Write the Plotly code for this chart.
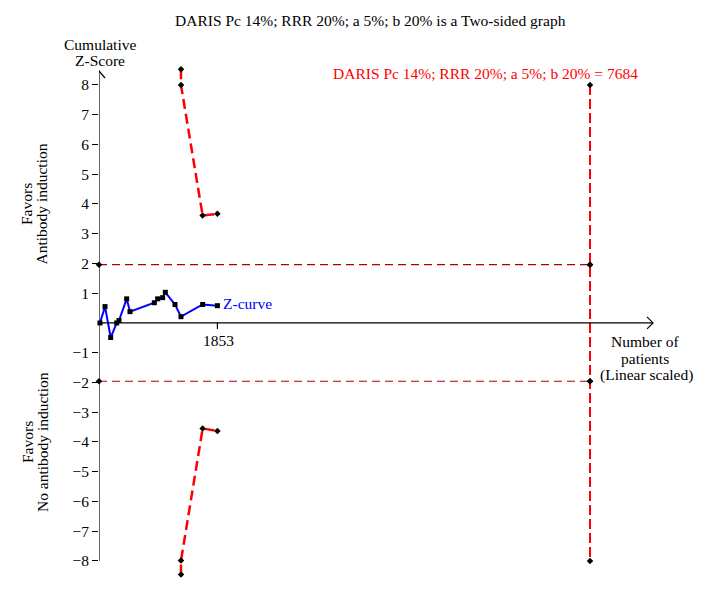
import plotly.graph_objects as go

# ---- data ----
z_patients = [15, 94, 183, 277, 313, 433, 485, 866, 918, 996, 1038, 1189, 1283, 1622, 1853]
z_values = [0.0, 0.55, -0.49, 0.0, 0.08, 0.81, 0.38, 0.68, 0.81, 0.85, 1.03, 0.62, 0.21, 0.62, 0.58]

bound_patients = [1283, 1283, 1622, 1853]
upper_bound = [8.53, 8.0, 3.61, 3.67]
lower_bound = [-8.46, -7.99, -3.55, -3.63]

ris = 7684
conv = 1.96
ris_marks = [8, 1.96, -1.96, -8]

ytick_vals = [8, 7, 6, 5, 4, 3, 2, 1, -1, -2, -3, -4, -5, -6, -7, -8]
ytick_text = ["8", "7", "6", "5", "4", "3", "2", "1", "\u22121", "\u22122", "\u22123", "\u22124",
              "\u22125", "\u22126", "\u22127", "\u22128"]
x_tick = 1853

FONT = "Liberation Serif"
FS = 15.5

# page body margin offset (browser default 8px)
OX, OY = 8, 8

# ---- geometry (reference pixels) ----
X_MAX = 8701
Y_MIN, Y_MAX = -8.81, 8.84
L, T, W, H = 99, 60, 556, 525
px_x = W / X_MAX
px_y = H / (Y_MAX - Y_MIN)

fig = go.Figure()

# conventional boundaries
for v in (conv, -conv):
    fig.add_trace(go.Scatter(x=[0, ris], y=[v, v], mode="lines+markers",
                             line=dict(color="#b00000", width=1.2, dash="8px,5px"),
                             marker=dict(symbol="diamond", size=5, color="black"),
                             cliponaxis=False, showlegend=False, hoverinfo="skip"))

# RIS vertical line
fig.add_trace(go.Scatter(x=[ris] * 2, y=[ris_marks[0], ris_marks[-1]], mode="lines",
                         line=dict(color="#ff0000", width=2, dash="10px,4px"),
                         showlegend=False, hoverinfo="skip"))
fig.add_trace(go.Scatter(x=[ris] * len(ris_marks), y=ris_marks, mode="markers",
                         marker=dict(symbol="diamond", size=5, color="black"),
                         showlegend=False, hoverinfo="skip"))

# monitoring boundaries
for b in (upper_bound, lower_bound):
    fig.add_trace(go.Scatter(x=bound_patients, y=b, mode="lines+markers",
                             line=dict(color="#ff0000", width=2.5, dash="10px,5px"),
                             marker=dict(symbol="diamond", size=5, color="black"),
                             cliponaxis=False, showlegend=False, hoverinfo="skip"))

# Z-curve
fig.add_trace(go.Scatter(x=z_patients, y=z_values, mode="lines+markers",
                         line=dict(color="#0000ff", width=2),
                         marker=dict(symbol="square", size=5, color="black"),
                         cliponaxis=False, showlegend=False, hoverinfo="skip"))

# axes lines and arrows
y_tip = 8.47
x_tip = 8670
shapes = [
    dict(type="line", x0=0, x1=0, y0=-8, y1=y_tip, xref="x", yref="y",
         line=dict(color="black", width=1.2)),
    dict(type="path", xref="x", yref="y",
         path=f"M {-6/px_x},{y_tip-7/px_y} L 0,{y_tip} L {6/px_x},{y_tip-7/px_y}",
         line=dict(color="black", width=1.2)),
    dict(type="line", x0=0, x1=x_tip, y0=0, y1=0, xref="x", yref="y",
         line=dict(color="black", width=1.2)),
    dict(type="path", xref="x", yref="y",
         path=f"M {x_tip-6/px_x},{6/px_y} L {x_tip},0 L {x_tip-6/px_x},{-6/px_y}",
         line=dict(color="black", width=1.2)),
    dict(type="line", x0=x_tick, x1=x_tick, y0=0, y1=-6/px_y, xref="x", yref="y",
         line=dict(color="black", width=1.2)),
]

ann = []

def ptxt(text, px, py, size=FS, color="black", xanchor="center", yanchor="middle", angle=0):
    x = (px - L) / W
    y = 1 - (py - T) / H
    ann.append(dict(text=text, x=x, y=y, xref="paper", yref="paper", showarrow=False,
                    font=dict(family=FONT, size=size, color=color),
                    xanchor=xanchor, yanchor=yanchor, textangle=angle))

ptxt("DARIS Pc 14%; RRR 20%; a 5%; b 20% is a Two-sided graph", 370, 20)
ptxt("Cumulative", 100, 44.5)
ptxt("Z-Score", 100, 61)
ptxt("DARIS Pc 14%; RRR 20%; a 5%; b 20% = 7684", 640, 74, color="#ff0000", xanchor="right")
ptxt("Favors", 27, 204, angle=-90)
ptxt("Antibody induction", 41.5, 204, angle=-90)
ptxt("Favors", 27, 442, angle=-90)
ptxt("No antibody induction", 42, 442, angle=-90)
ptxt("Number of", 645, 341)
ptxt("patients", 645, 358)
ptxt("(Linear scaled)", 646, 375)
ptxt("1853", 218, 340)
ptxt("Z-curve", 221, 303, color="#0000ff", xanchor="left")

fig.update_layout(
    width=719 - OX, height=596 - OY,
    margin=dict(l=L - OX, r=719 - L - W, t=T - OY, b=596 - T - H, autoexpand=False),
    paper_bgcolor="white", plot_bgcolor="white",
    font=dict(family=FONT, size=FS, color="black"),
    xaxis=dict(range=[0, X_MAX], showgrid=False, zeroline=False, showline=False,
               showticklabels=False, ticks=""),
    yaxis=dict(range=[Y_MIN, Y_MAX], showgrid=False, zeroline=False, showline=False,
               tickvals=ytick_vals, ticktext=ytick_text, ticks="outside", ticklen=6,
               tickcolor="black", tickwidth=1.2, tickfont=dict(family=FONT, size=FS)),
    shapes=shapes, annotations=ann,
)

fig.write_html("out.html")
